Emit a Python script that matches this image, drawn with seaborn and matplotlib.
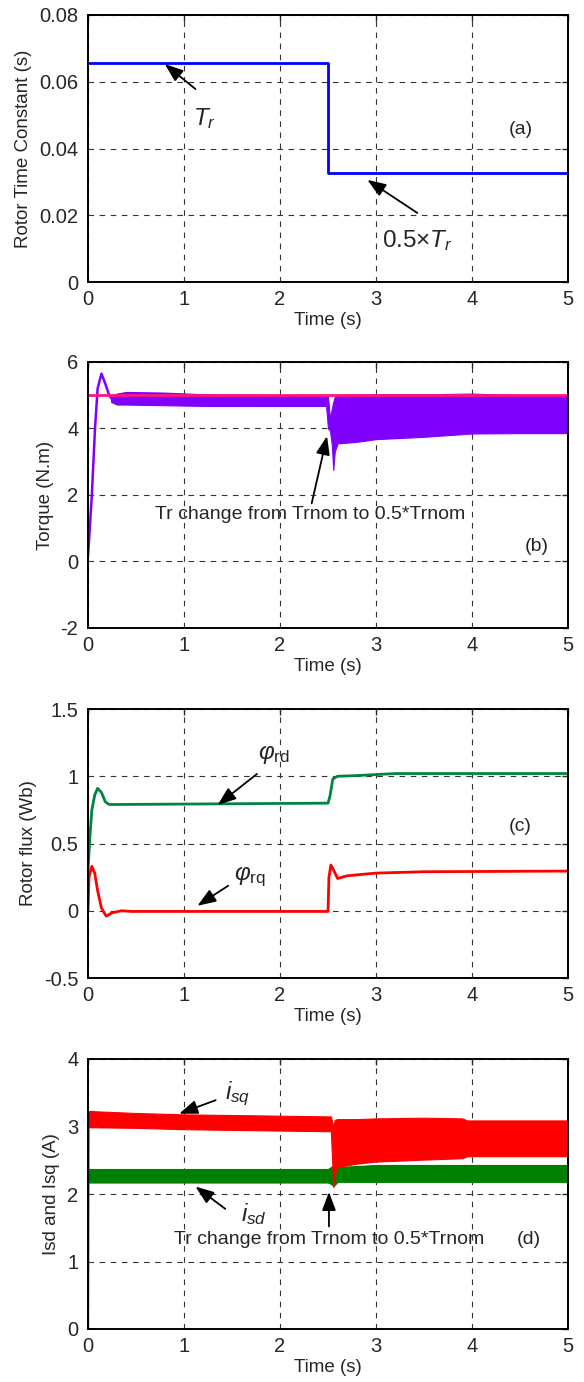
import numpy as np
import pandas as pd
import matplotlib
matplotlib.use("Agg")
import matplotlib.pyplot as plt
import seaborn as sns

sns.set_style("white")
plt.rcParams['font.family'] = ['Liberation Sans', 'DejaVu Sans']
plt.rcParams['mathtext.fontset'] = 'custom'
plt.rcParams['mathtext.rm'] = 'Liberation Sans'
plt.rcParams['mathtext.it'] = 'Liberation Sans:italic'
plt.rcParams['mathtext.fallback'] = 'cm'

# ---------------- data ----------------
# (a) rotor time constant
tr_time = [0.0, 2.5, 5.0]
tr_vals = [0.0656, 0.0328, 0.0328]

# (b) torque: start-up transient, then oscillation envelope
te_t = [0.0, 0.01, 0.04, 0.073, 0.10, 0.14, 0.18, 0.22, 0.26]
te_v = [0.15, 0.6, 2.0, 4.0, 5.2, 5.65, 5.35, 5.0, 4.85]
teb_t = [0.24, 0.3, 0.4, 0.8, 1.2, 2.0, 2.48, 2.50, 2.52, 2.54, 2.555, 2.57, 2.6, 2.8, 3.0, 3.5, 4.0, 4.5, 5.0]
teb_hi = [5.0, 5.05, 5.1, 5.08, 5.03, 5.0, 4.98, 4.95, 4.3, 4.6, 4.8, 4.95, 5.0, 5.02, 5.03, 5.03, 5.05, 5.0, 5.0]
teb_lo = [4.8, 4.72, 4.72, 4.70, 4.68, 4.68, 4.68, 4.0, 3.95, 3.5, 2.75, 3.3, 3.55, 3.6, 3.68, 3.75, 3.85, 3.86, 3.86]
te_ref_t = [0.0, 5.0]
te_ref = [5.0, 5.0]

# (c) rotor flux
rd_t = [0.0, 0.02, 0.04, 0.07, 0.10, 0.14, 0.18, 0.22, 0.30, 2.50, 2.52, 2.55, 2.60, 2.80, 3.20, 5.0]
rd_v = [0.30, 0.55, 0.75, 0.86, 0.91, 0.88, 0.81, 0.79, 0.79, 0.80, 0.85, 0.98, 1.0, 1.005, 1.02, 1.02]
rq_t = [0.0, 0.01, 0.04, 0.07, 0.10, 0.14, 0.19, 0.25, 0.35, 0.45, 2.50, 2.51, 2.53, 2.56, 2.60, 2.70, 3.0, 3.5, 5.0]
rq_v = [0.0, 0.25, 0.33, 0.28, 0.15, 0.02, -0.04, -0.015, 0.0, -0.005, -0.005, 0.25, 0.34, 0.30, 0.24, 0.26, 0.28, 0.29, 0.295]

# (d) stator currents envelopes
isq_start_t = [0.0, 0.005]
isq_start_v = [0.0, 3.2]
isq_t = [0.005, 0.5, 1.0, 1.5, 2.0, 2.5, 2.53, 2.555, 2.57, 2.6, 2.8, 3.0, 3.5, 3.9, 3.95, 4.5, 5.0]
isq_hi = [3.23, 3.20, 3.18, 3.17, 3.16, 3.15, 3.15, 3.0, 3.10, 3.11, 3.11, 3.12, 3.13, 3.12, 3.09, 3.09, 3.09]
isq_lo = [2.99, 2.98, 2.96, 2.95, 2.94, 2.93, 2.93, 2.10, 2.30, 2.40, 2.45, 2.48, 2.51, 2.53, 2.56, 2.56, 2.56]
isd_t = [0.005, 0.5, 1.0, 2.0, 2.5, 2.53, 2.56, 2.6, 3.0, 3.5, 4.0, 5.0]
isd_hi = [2.37, 2.37, 2.37, 2.37, 2.37, 2.40, 2.42, 2.40, 2.43, 2.43, 2.43, 2.43]
isd_lo = [2.17, 2.17, 2.17, 2.17, 2.17, 2.15, 2.12, 2.18, 2.18, 2.18, 2.18, 2.18]

x_ticks = [0, 1, 2, 3, 4, 5]
yt_a = [0, 0.02, 0.04, 0.06, 0.08]
yl_a = ['0', '0.02', '0.04', '0.06', '0.08']
yt_b = [-2, 0, 2, 4, 6]
yl_b = ['-2', '0', '2', '4', '6']
yt_c = [-0.5, 0, 0.5, 1, 1.5]
yl_c = ['-0.5', '0', '0.5', '1', '1.5']
yt_d = [0, 1, 2, 3, 4]
yl_d = ['0', '1', '2', '3', '4']

# ---------------- figure ----------------
fig = plt.figure(figsize=(5.84, 13.82), dpi=100)
L, W = 88 / 584, 480 / 584
H = 1382
ax_a = fig.add_axes([L, 1 - 282 / H, W, 267 / H])
ax_b = fig.add_axes([L, 1 - 628 / H, W, 266 / H])
ax_c = fig.add_axes([L, 1 - 978 / H, W, 269 / H])
ax_d = fig.add_axes([L, 1 - 1329 / H, W, 270 / H])

TICK_FS = 14.5
LAB_FS = 13.5
ANN_FS = 14
MATH_FS = 17.5


def style(ax, yt, yl, ylim, ylabel):
    ax.set_xlim(0, 5)
    ax.set_ylim(*ylim)
    ax.set_xticks(x_ticks)
    ax.set_xticklabels([str(v) for v in x_ticks])
    ax.set_yticks(yt)
    ax.set_yticklabels(yl)
    ax.tick_params(axis='both', direction='in', length=4, width=1, labelsize=TICK_FS,
                   top=True, right=True)
    ax.tick_params(axis='y', pad=7)
    ax.tick_params(axis='x', pad=6)
    ax.grid(True, linestyle=(0, (5, 5)), color='#333333', linewidth=0.8)
    ax.set_axisbelow(True)
    for s in ax.spines.values():
        s.set_linewidth(1.4)
        s.set_color('black')
    ax.set_xlabel('Time (s)', fontsize=LAB_FS, labelpad=2)
    ax.set_ylabel(ylabel, fontsize=LAB_FS, labelpad=5)


arrow_kw = dict(arrowstyle='-|>,head_length=0.8,head_width=0.3', color='black', lw=1.3,
                shrinkA=0, shrinkB=0, mutation_scale=14)

# (a)
df_a = pd.DataFrame({'t': tr_time, 'v': tr_vals})
sns.lineplot(data=df_a, x='t', y='v', ax=ax_a, color='#0000FF', linewidth=2,
             drawstyle='steps-post', estimator=None, sort=False)
style(ax_a, yt_a, yl_a, (0, 0.08), 'Rotor Time Constant (s)')
ax_a.annotate('', xy=(0.80, 0.0653), xytext=(1.12, 0.0578), arrowprops=arrow_kw)
ax_a.text(1.21, 0.049, r'$T_r$', fontsize=MATH_FS, ha='center', va='center')
ax_a.annotate('', xy=(2.91, 0.0306), xytext=(3.43, 0.0207), arrowprops=arrow_kw)
ax_a.text(3.43, 0.0123, r'0.5×$T_r$', fontsize=MATH_FS, ha='center', va='center')
ax_a.text(4.51, 0.0458, '(a)', fontsize=ANN_FS, ha='center', va='center')

# (b)
ax_b.fill_between(teb_t, teb_lo, teb_hi, color='#8000FF', linewidth=0.8, edgecolor='#8000FF')
sns.lineplot(x=te_t, y=te_v, ax=ax_b, color='#8000FF', linewidth=1.8, estimator=None, sort=False)
sns.lineplot(x=te_ref_t, y=te_ref, ax=ax_b, color='#FF1480', linewidth=2, estimator=None, sort=False)
style(ax_b, yt_b, yl_b, (-2, 6), 'Torque (N.m)')
ax_b.annotate('', xy=(2.49, 3.77), xytext=(2.33, 1.75), arrowprops=arrow_kw)
ax_b.text(2.31, 1.40, 'Tr change from Trnom to 0.5*Trnom', fontsize=ANN_FS, ha='center', va='center')
ax_b.text(4.67, 0.45, '(b)', fontsize=ANN_FS, ha='center', va='center')

# (c)
sns.lineplot(x=rd_t, y=rd_v, ax=ax_c, color='#00853E', linewidth=2, estimator=None, sort=False)
sns.lineplot(x=rq_t, y=rq_v, ax=ax_c, color='#FF0000', linewidth=2, estimator=None, sort=False)
style(ax_c, yt_c, yl_c, (-0.5, 1.5), 'Rotor flux (Wb)')
ax_c.annotate('', xy=(1.35, 0.786), xytext=(1.76, 1.017), arrowprops=arrow_kw)
ax_c.text(1.94, 1.16, r'$\varphi_{\mathrm{rd}}$', fontsize=MATH_FS, ha='center', va='center')
ax_c.annotate('', xy=(1.14, 0.037), xytext=(1.46, 0.186), arrowprops=arrow_kw)
ax_c.text(1.69, 0.253, r'$\varphi_{\mathrm{rq}}$', fontsize=MATH_FS, ha='center', va='center')
ax_c.text(4.50, 0.63, '(c)', fontsize=ANN_FS, ha='center', va='center')

# (d)
ax_d.fill_between(isd_t, isd_lo, isd_hi, color='#008000', linewidth=0.8, edgecolor='#008000')
ax_d.fill_between(isq_t, isq_lo, isq_hi, color='#FF0000', linewidth=0.8, edgecolor='#FF0000')
sns.lineplot(x=isq_start_t, y=isq_start_v, ax=ax_d, color='#B00000', linewidth=1.6,
             estimator=None, sort=False)
style(ax_d, yt_d, yl_d, (0, 4), 'Isd and Isq (A)')
ax_d.annotate('', xy=(0.95, 3.19), xytext=(1.33, 3.39), arrowprops=arrow_kw)
ax_d.text(1.56, 3.49, r'$i_{sq}$', fontsize=MATH_FS, ha='center', va='center')
ax_d.annotate('', xy=(1.12, 2.11), xytext=(1.43, 1.78), arrowprops=arrow_kw)
ax_d.text(1.73, 1.71, r'$i_{sd}$', fontsize=MATH_FS, ha='center', va='center')
ax_d.annotate('', xy=(2.51, 2.03), xytext=(2.51, 1.52), arrowprops=arrow_kw)
ax_d.text(2.51, 1.32, 'Tr change from Trnom to 0.5*Trnom', fontsize=ANN_FS, ha='center', va='center')
ax_d.text(4.59, 1.32, '(d)', fontsize=ANN_FS, ha='center', va='center')

for ax in (ax_a, ax_b, ax_c, ax_d):
    if ax.get_legend():
        ax.get_legend().remove()

fig.savefig('out.png', dpi=100)
